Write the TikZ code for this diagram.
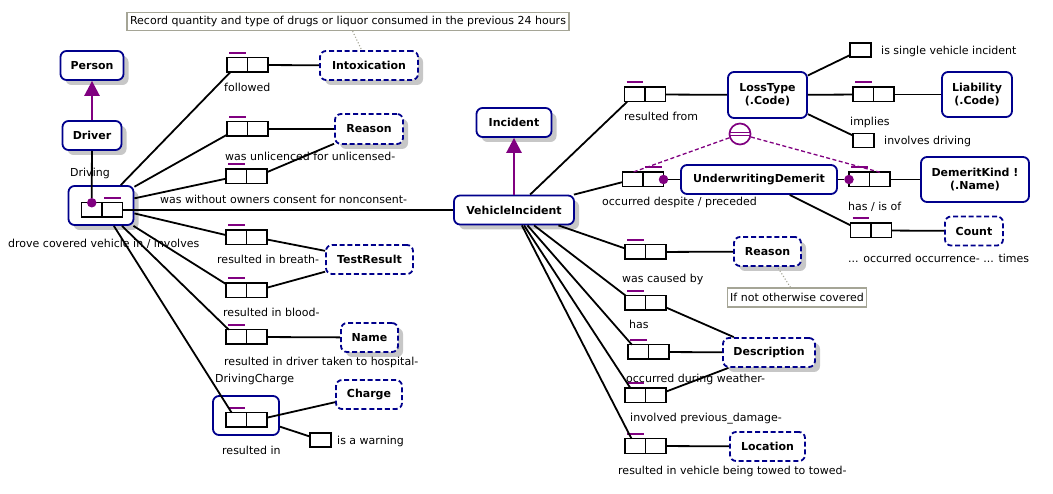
\documentclass[tikz,border=0pt]{standalone}
\usepackage{fontspec}
\setmainfont{DejaVu Sans}
\usepackage{tikz}
\usetikzlibrary{arrows.meta, shadows}
\definecolor{ormnavy}{RGB}{0,0,140}
\definecolor{ormpurple}{RGB}{128,0,128}
\definecolor{notegray}{RGB}{165,165,150}

\begin{document}
\begin{tikzpicture}[
		x=1pt, y=-1pt,
		font=\fontsize{11}{13}\selectfont,
		entity/.style={
			draw=ormnavy,
			line width=1.8pt,
			rounded corners=6pt,
			fill=white,
			font=\fontsize{11}{13}\selectfont\bfseries,
			align=center,
			minimum height=29pt,
			inner sep=2pt
		},
		valtype/.style={entity, dash pattern=on 5pt off 2.8pt},
		shade/.style={drop shadow={shadow xshift=5pt, shadow yshift=-5pt, fill=black!22, opacity=1}},
		objbox/.style={draw=ormnavy, line width=1.8pt, rounded corners=6pt, inner sep=0pt},
		role/.style={draw, line width=1.5pt, fill=white, minimum width=20.5pt, minimum height=14.5pt, inner sep=0pt, outer sep=0pt},
		unary/.style={role, minimum width=21pt, minimum height=14pt},
		uniq/.style={draw=ormpurple, line width=1.8pt},
		mand/.style={circle, fill=ormpurple, inner sep=0pt, minimum size=9.5pt},
		link/.style={line width=1.8pt},
		subtype/.style={draw=ormpurple, line width=2.6pt, -{Triangle[length=15pt, width=15pt]}},
		eqline/.style={draw=ormpurple, line width=1.3pt, dash pattern=on 4pt off 2.5pt},
		note/.style={draw=notegray, line width=1.3pt, fill=white, inner xsep=3pt, inner ysep=1pt, minimum height=18pt},
		noteline/.style={draw=notegray, line width=1.1pt, dotted},
		lbl/.style={anchor=west, inner sep=0pt}
		]
		\useasboundingbox (0,0) rectangle (1053,494);
		
		% Object types, driver side
		\node[entity, shade, minimum width=63pt] (person) at (92,65.5) {Person};
		\node[entity, shade, minimum width=59pt] (driver) at (92,135.5) {Driver};
		\node[objbox, shade, fill=white, minimum width=65pt, minimum height=39pt] (driving) at (101,205.5) {};
		\node[valtype, shade, minimum width=98pt] (intox) at (369,65.5) {Intoxication};
		\node[valtype, shade, minimum width=68pt, minimum height=30pt] (reason) at (369,129) {Reason};
		\node[valtype, minimum width=87pt] (testres) at (369.5,259.5) {TestResult};
		\node[valtype, shade, minimum width=57pt] (name) at (369.5,337.5) {Name};
		\node[objbox, minimum width=66pt, minimum height=39pt] (drcharge) at (246,415.5) {};
		\node[valtype, minimum width=66pt] (charge) at (369,394.5) {Charge};
		\node[unary] (warn) at (320.5,440) {};
		
		% Object types, incident side
		\node[entity, shade, minimum width=75pt] (incident) at (514,122.5) {Incident};
		\node[entity, shade, minimum width=120pt] (vehinc) at (514,210) {VehicleIncident};
		\node[entity, minimum width=79pt, minimum height=46pt] (losstype) at (767.5,95) {LossType\\(.Code)};
		\node[unary] (single) at (860.5,50) {};
		\node[entity, minimum width=70pt, minimum height=45pt] (liab) at (977,94.5) {Liability\\(.Code)};
		\node[unary] (drives) at (863.5,140.5) {};
		\node[entity, minimum width=156pt] (demerit) at (759,179.5) {UnderwritingDemerit};
		\node[entity, minimum width=108pt, minimum height=45pt] (demkind) at (975,179.5) {DemeritKind !\\(.Name)};
		\node[valtype, minimum width=58pt] (count) at (974,231) {Count};
		\node[valtype, shade, minimum width=67pt] (cause) at (767.5,251.5) {Reason};
		\node[valtype, shade, minimum width=92pt] (descr) at (769,352.5) {Description};
		\node[valtype, minimum width=75pt] (location) at (767.5,446.5) {Location};
		
		% Fact types (two roles each) with uniqueness bar
		\foreach \n/\x/\y/\u in {fdrv/102/210/b, fintox/247.5/65/a, funlic/247.5/129/a, fnonc/246.5/176.5/a,
			fbreath/246.5/237.5/a, fblood/246.5/290.5/a, fhosp/246.5/337/a, fcharge/246.5/420/a,
			fresult/645/94.5/a, fimplies/873.5/94.5/a, foccur/643/179.5/b, fhasis/869.5/179.5/a,
			fcount/871/230.5/a, fcause/645.5/252/a, fhas/645.5/303/a, fweather/648.5/352/a,
			fdamage/645.5/395.5/a, ftowed/645.5/446/a}{
			\node[role, anchor=east] (\n-a) at (\x,\y) {};
			\node[role, anchor=west] (\n-b) at (\x,\y) {};
			\draw[uniq] ([xshift=2pt,yshift=5pt]\n-\u.north west) -- ([xshift=-2pt,yshift=5pt]\n-\u.north east);
		}
		
		% Mandatory dots and equality constraint
		\node[mand] (drvdot) at (fdrv-a.north) {};
		\node[mand] (occdot) at (foccur-b.east) {};
		\node[mand] (hasdot) at (fhasis-a.west) {};
		\node[circle, draw=ormpurple, line width=1.7pt, fill=white, minimum size=21pt, inner sep=0pt] (eq) at (740,134) {};
		\draw[ormpurple, line width=1.4pt] ([yshift=1.7pt]eq.west) -- ([yshift=1.7pt]eq.east);
		\draw[ormpurple, line width=1.4pt] ([yshift=-1.5pt]eq.west) -- ([yshift=-1.5pt]eq.east);
		\draw[eqline] (eq) -- (foccur-a.north);
		\draw[eqline] (eq) -- (fhasis-b.north);
		
		% Subtypes
		\draw[subtype] (driver) -- (person);
		\draw[subtype] (vehinc) -- (incident);
		
		% Role links, driver side
		\draw[link] (driver) -- (drvdot);
		\draw[link] (fdrv-b) -- (vehinc);
		\draw[link] (driving) -- (fintox-a);
		\draw[link] (driving) -- (funlic-a);
		\draw[link] (driving) -- (fnonc-a);
		\draw[link] (driving) -- (fbreath-a);
		\draw[link] (driving) -- (fblood-a);
		\draw[link] (driving) -- (fhosp-a);
		\draw[link] (driving) -- (fcharge-a);
		\draw[link] (fintox-b) -- (intox);
		\draw[link] (funlic-b) -- (reason);
		\draw[link] (fnonc-b) -- (reason);
		\draw[link] (fbreath-b) -- (testres);
		\draw[link] (fblood-b) -- (testres);
		\draw[link] (fhosp-b) -- (name);
		\draw[link] (fcharge-b) -- (charge);
		\draw[link] (drcharge) -- (warn);
		
		% Role links, incident side
		\draw[link] (vehinc) -- (fresult-a);
		\draw[link] (vehinc) -- (foccur-a);
		\draw[link] (vehinc) -- (fcause-a);
		\draw[link] (vehinc) -- (fhas-a);
		\draw[link] (vehinc) -- (fweather-a);
		\draw[link] (vehinc) -- (fdamage-a);
		\draw[link] (vehinc) -- (ftowed-a);
		\draw[link] (fresult-b) -- (losstype);
		\draw[link] (losstype) -- (single);
		\draw[link] (losstype) -- (fimplies-a);
		\draw[link] (fimplies-b) -- (liab);
		\draw[link] (losstype) -- (drives);
		\draw[link] (occdot) -- (demerit);
		\draw[link] (demerit) -- (hasdot);
		\draw[link] (fhasis-b) -- (demkind);
		\draw[link] (demerit) -- (fcount-a);
		\draw[link] (fcount-b) -- (count);
		\draw[link] (fcause-b) -- (cause);
		\draw[link] (fhas-b) -- (descr);
		\draw[link] (fweather-b) -- (descr);
		\draw[link] (fdamage-b) -- (descr);
		\draw[link] (ftowed-b) -- (location);
		
		% Notes
		\node[note] (note1) at (348,21.5) {Record quantity and type of drugs or liquor consumed in the previous 24 hours};
		\node[note, minimum height=19pt] (note2) at (797,297.5) {If not otherwise covered};
		\draw[noteline] (note1) -- (intox);
		\draw[noteline] (note2) -- (cause);
		
		% Readings
		\node[lbl] (l1) at (70,173) {Driving};
		\node[lbl] (l2) at (224,87) {followed};
		\node[lbl] (l3) at (225,156) {was unlicenced for unlicensed-};
		\node[lbl] (l4) at (160,199) {was without owners consent for nonconsent-};
		\node[lbl] (l5) at (8,244) {drove covered vehicle in / involves};
		\node[lbl] (l6) at (217,259) {resulted in breath-};
		\node[lbl] (l7) at (223,312) {resulted in blood-};
		\node[lbl] (l8) at (224,362) {resulted in driver taken to hospital-};
		\node[lbl] (l9) at (215,379) {DrivingCharge};
		\node[lbl] (l10) at (337,441) {is a warning};
		\node[lbl] (l11) at (222,450) {resulted in};
		\node[lbl] (l12) at (624,116) {resulted from};
		\node[lbl] (l13) at (881,51) {is single vehicle incident};
		\node[lbl] (l14) at (850,122) {implies};
		\node[lbl] (l15) at (884,141) {involves driving};
		\node[lbl] (l16) at (602,202) {occurred despite / preceded};
		\node[lbl] (l17) at (848,207) {has / is of};
		\node[lbl] (l18) at (848,258) {... occurred occurrence- ... times};
		\node[lbl] (l19) at (622,279) {was caused by};
		\node[lbl] (l20) at (629,324) {has};
		\node[lbl] (l21) at (626,379) {occurred during weather-};
		\node[lbl] (l22) at (630,419) {involved previous\_damage-};
		\node[lbl] (l23) at (618,471) {resulted in vehicle being towed to towed-};
		
	\end{tikzpicture}
\end{document}
